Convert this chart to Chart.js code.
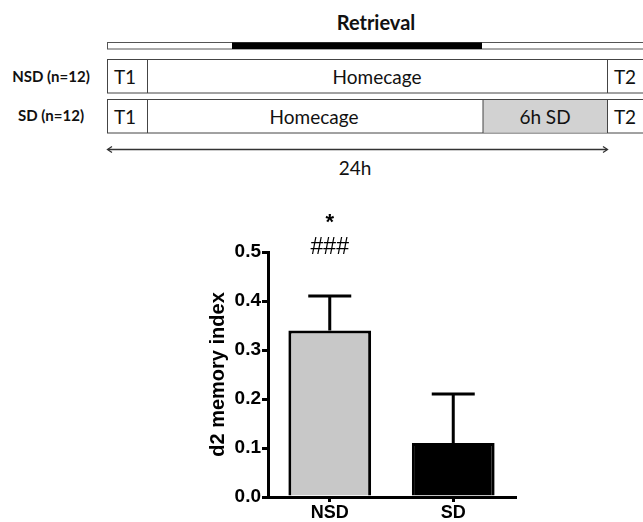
<!DOCTYPE html>
<html><head><meta charset="utf-8">
<script src="https://cdn.jsdelivr.net/npm/chart.js@4.4.0/dist/chart.umd.min.js"></script>
<style>
html,body{margin:0;padding:0;background:#fff;width:643px;height:522px;overflow:hidden}
#wrap{position:relative;width:643px;height:522px}
#c{position:absolute;left:0;top:0}
#schema{position:absolute;left:0;top:0}
</style></head><body>
<div id="wrap">
<svg id="schema" width="643" height="200" xmlns="http://www.w3.org/2000/svg" font-family="Lato, 'Open Sans', sans-serif" fill="#111">
  <text x="376" y="30" text-anchor="middle" font-weight="bold" font-size="20">Retrieval</text>
  <rect x="107.5" y="42.5" width="540" height="6.5" fill="#fff" stroke="#555" stroke-width="1"/>
  <rect x="232" y="42.5" width="250" height="6.5" fill="#000"/>
  <text x="51" y="81.5" text-anchor="middle" font-weight="bold" font-size="15">NSD (n=12)</text>
  <text x="51" y="121" text-anchor="middle" font-weight="bold" font-size="15">SD (n=12)</text>
  <rect x="107.5" y="59.5" width="540" height="33.5" fill="#fff" stroke="#444" stroke-width="1"/>
  <line x1="147.5" y1="59.5" x2="147.5" y2="93" stroke="#444"/>
  <line x1="607.5" y1="59.5" x2="607.5" y2="93" stroke="#444"/>
  <text x="125" y="83.5" text-anchor="middle" font-size="19">T1</text>
  <text x="377" y="83.5" text-anchor="middle" font-size="19">Homecage</text>
  <text x="625" y="83.5" text-anchor="middle" font-size="19">T2</text>
  <rect x="107.5" y="99.5" width="540" height="33.5" fill="#fff" stroke="#444" stroke-width="1"/>
  <rect x="483" y="100" width="124.5" height="32.5" fill="#d2d2d2"/>
  <line x1="147.5" y1="99.5" x2="147.5" y2="133" stroke="#444"/>
  <line x1="483" y1="99.5" x2="483" y2="133" stroke="#444"/>
  <line x1="607.5" y1="99.5" x2="607.5" y2="133" stroke="#444"/>
  <text x="125" y="123.5" text-anchor="middle" font-size="19">T1</text>
  <text x="314" y="123.5" text-anchor="middle" font-size="19">Homecage</text>
  <text x="545" y="123.5" text-anchor="middle" font-size="19">6h SD</text>
  <text x="625" y="123.5" text-anchor="middle" font-size="19">T2</text>
  <line x1="108" y1="149.5" x2="607" y2="149.5" stroke="#333" stroke-width="1.3"/>
  <path d="M112 146.5 L107.5 149.5 L112 152.5" fill="none" stroke="#333" stroke-width="1.3"/>
  <path d="M603 146.5 L607.5 149.5 L603 152.5" fill="none" stroke="#333" stroke-width="1.3"/>
  <text x="355" y="175" text-anchor="middle" font-size="19">24h</text>
</svg>
<canvas id="c" width="643" height="522"></canvas>
</div>
<script>
const groups = ['NSD', 'SD'];
const means = [0.34, 0.11];
const sem = [0.07, 0.10];
const markStar = ['*', ''];
const markHash = ['###', ''];
const barColors = ['#c8c8c8', '#000000'];
const yTicks = [0.0, 0.1, 0.2, 0.3, 0.4, 0.5];

const FONT = "'Liberation Sans', Arial, sans-serif";

const errorBars = {
  id: 'errorBars',
  afterDatasetsDraw(chart) {
    const ctx = chart.ctx;
    const meta = chart.getDatasetMeta(0);
    const y = chart.scales.y;
    ctx.save();
    ctx.strokeStyle = '#000';
    ctx.lineWidth = 3;
    meta.data.forEach((bar, i) => {
      const x = bar.x;
      const yTop = y.getPixelForValue(means[i] + sem[i]);
      const yBar = y.getPixelForValue(means[i]);
      ctx.beginPath();
      ctx.moveTo(x, yBar);
      ctx.lineTo(x, yTop);
      ctx.moveTo(x - 21.5, yTop);
      ctx.lineTo(x + 21.5, yTop);
      ctx.stroke();
    });
    ctx.fillStyle = '#000';
    ctx.textAlign = 'center';
    ctx.textBaseline = 'middle';
    const top = chart.chartArea.top;
    meta.data.forEach((bar, i) => {
      ctx.font = "bold 22px " + FONT;
      if (markStar[i]) ctx.fillText(markStar[i], bar.x, top - 29);
      ctx.font = "23px " + FONT;
      if (markHash[i]) ctx.fillText(markHash[i], bar.x, top - 4);
    });
    ctx.restore();
  }
};

new Chart(document.getElementById('c'), {
  type: 'bar',
  data: {
    labels: groups,
    datasets: [{
      data: means,
      backgroundColor: barColors,
      borderColor: '#000',
      borderWidth: 3,
      borderSkipped: 'start',
      barPercentage: 0.67,
      categoryPercentage: 1.0
    }]
  },
  options: {
    responsive: false,
    animation: false,
    devicePixelRatio: 1,
    layout: { padding: { left: 200, top: 252, right: 128, bottom: 0 } },
    plugins: { legend: { display: false }, tooltip: { enabled: false } },
    scales: {
      x: {
        offset: true,
        grid: { offset: false, drawOnChartArea: false, drawTicks: true, tickLength: 5, color: '#000', lineWidth: 3 },
        border: { color: '#000', width: 3 },
        ticks: { color: '#000', font: { family: FONT, size: 18, weight: 'bold' }, padding: 0 },
        afterFit(scale) { scale.height = 25; }
      },
      y: {
        min: 0, max: 0.5,
        afterBuildTicks(scale) { scale.ticks = yTicks.map(v => ({ value: v })); },
        grid: { drawOnChartArea: false, drawTicks: true, tickLength: 6, color: '#000', lineWidth: 3 },
        border: { color: '#000', width: 3 },
        ticks: { color: '#000', font: { family: FONT, size: 19, weight: 'bold' }, padding: 1,
                 callback: v => Number(v).toFixed(1) },
        title: { display: true, text: 'd2 memory index', color: '#000',
                 font: { family: FONT, size: 20, weight: 'bold' }, padding: { top: 6, bottom: 0 } },
        afterFit(scale) { scale.width = 68; }
      }
    }
  },
  plugins: [errorBars]
});
</script>
</body></html>
